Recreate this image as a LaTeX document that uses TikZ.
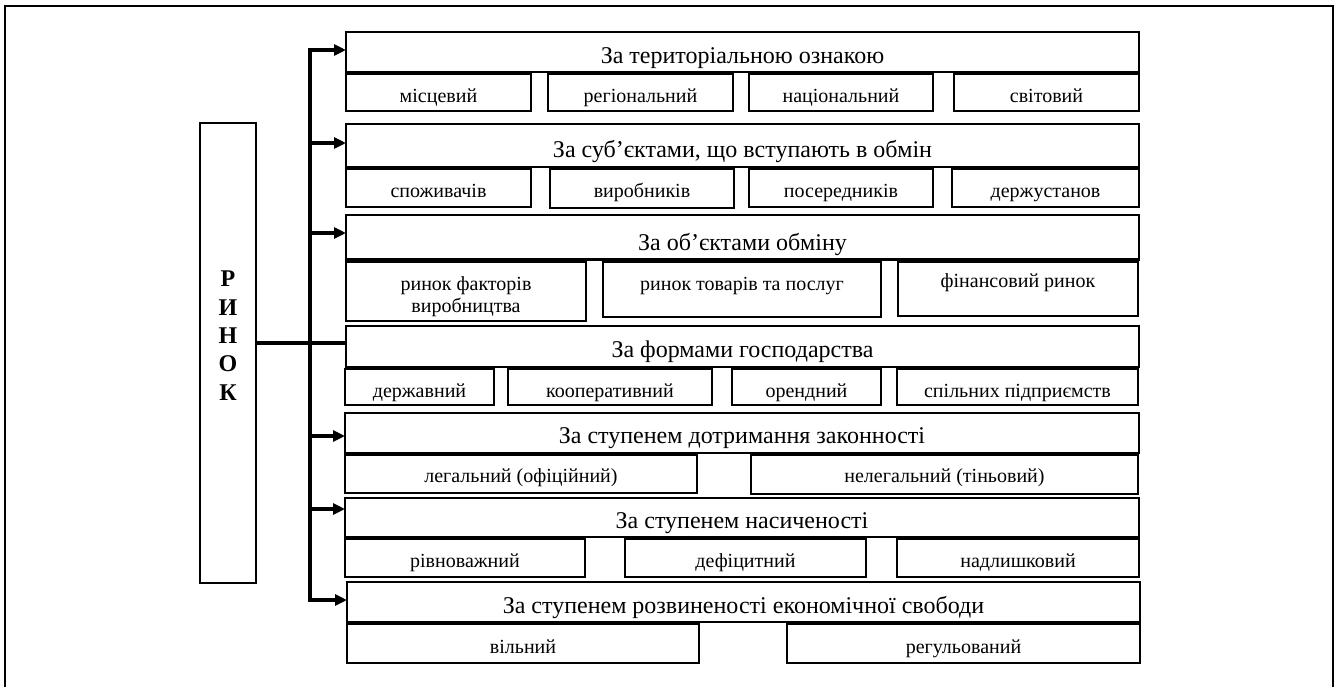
\documentclass[tikz,border=0pt]{standalone}
\usepackage{fontspec}
\setmainfont{Liberation Serif}
\usetikzlibrary{arrows.meta,fit}
\newcommand\hdr[7]{%
  \node[box,fit={(#2,#3)(#4,#5)}] (#1) {};
  \node[htext,anchor=base] (#1t) at ({(#2+#4)/2},#6) {#7};}
\newcommand\sbx[7]{%
  \node[box,fit={(#2,#3)(#4,#5)}] (#1) {};
  \node[stext,anchor=base] (#1t) at ({(#2+#4)/2},#6) {#7};}
\begin{document}
\begin{tikzpicture}[x=1pt,y=-1pt,
  box/.style={draw,line width=2.9pt,inner sep=0pt,outer sep=0pt},
  htext/.style={font=\fontsize{24}{28}\selectfont,inner sep=0pt},
  stext/.style={font=\fontsize{20}{22}\selectfont,inner sep=0pt,align=center},
  bus/.style={line width=3.8pt},
  arr/.style={line width=3.6pt,-{Triangle[length=12pt,width=11pt]}},
  frame/.style={line width=2.6pt}]
\useasboundingbox (0,0) rectangle (1336,686);
\draw[frame] (5,690) -- (5,6) -- (1333,6) -- (1333,690);

% main box
\node[box,fit={(200,123)(256,583)}] (rynok) {};
\node[font=\fontsize{24}{28.3}\selectfont\bfseries,align=center,anchor=base,inner sep=0pt] (rynokt) at (228,400) {Р\\И\\Н\\О\\К};

% row 1
\hdr{h1}{346}{32}{1139}{72}{63}{За територіальною ознакою}
\sbx{s11}{346}{74}{531}{111}{102}{місцевий}
\sbx{s12}{548}{74}{733}{111}{102}{регіональний}
\sbx{s13}{749}{74}{933}{111}{102}{національний}
\sbx{s14}{954}{74}{1139}{111}{102}{світовий}
% row 2
\hdr{h2}{346}{124}{1139}{167}{157}{За суб’єктами, що вступають в обмін}
\sbx{s21}{346}{169}{531}{207}{197}{споживачів}
\sbx{s22}{550}{169}{734}{208}{197}{виробників}
\sbx{s23}{749}{169}{933}{207}{197}{посередників}
\sbx{s24}{952}{169}{1139}{207}{197}{держустанов}
% row 3
\hdr{h3}{346}{215}{1139}{259.5}{250}{За об’єктами обміну}
\sbx{s31}{346}{261.5}{586}{321}{312}{ринок факторів\\виробництва}
\sbx{s32}{603}{261.5}{881}{317}{290}{ринок товарів та послуг}
\sbx{s33}{898}{261.5}{1138}{316}{287}{фінансовий ринок}
% row 4
\hdr{h4}{346}{326}{1139}{367}{357}{За формами господарства}
\sbx{s41}{345}{369}{494}{405}{397}{державний}
\sbx{s42}{508}{369}{712}{405}{397}{кооперативний}
\sbx{s43}{732}{369}{881}{405}{397}{орендний}
\sbx{s44}{897}{369}{1138}{405}{397}{спільних підприємств}
% row 5
\hdr{h5}{345}{413}{1139}{453}{443}{За ступенем дотримання законності}
\sbx{s51}{345}{455}{697}{493}{482}{легальний (офіційний)}
\sbx{s52}{751}{455}{1138}{494}{482}{нелегальний (тіньовий)}
% row 6
\hdr{h6}{345}{498}{1139}{537}{528}{За ступенем насиченості}
\sbx{s61}{345}{539}{585}{577}{567}{рівноважний}
\sbx{s62}{625}{539}{866}{577}{567}{дефіцитний}
\sbx{s63}{897}{539}{1139}{577}{567}{надлишковий}
% row 7
\hdr{h7}{347}{582}{1140}{622}{613}{За ступенем розвиненості економічної свободи}
\sbx{s71}{347}{624}{699}{663}{653}{вільний}
\sbx{s72}{787}{624}{1140}{663}{653}{регульований}

% bus and arrows
\coordinate (b1) at (310,50);
\coordinate (b2) at (310,143);
\coordinate (b3) at (310,233);
\coordinate (b4) at (310,343);
\coordinate (b5) at (310,436);
\coordinate (b6) at (310,509);
\coordinate (b7) at (310,600);
\draw[bus,line cap=rect] (b1) -- (b7);
\draw[arr] (b1) -- (b1 -| h1.west);
\draw[arr] (b2) -- (b2 -| h2.west);
\draw[arr] (b3) -- (b3 -| h3.west);
\draw[arr] (b5) -- (b5 -| h5.west);
\draw[arr] (b6) -- (b6 -| h6.west);
\draw[arr] (b7) -- (b7 -| h7.west);
\draw[bus] (b4 -| rynok.east) -- (b4 -| h4.west);
\end{tikzpicture}
\end{document}
